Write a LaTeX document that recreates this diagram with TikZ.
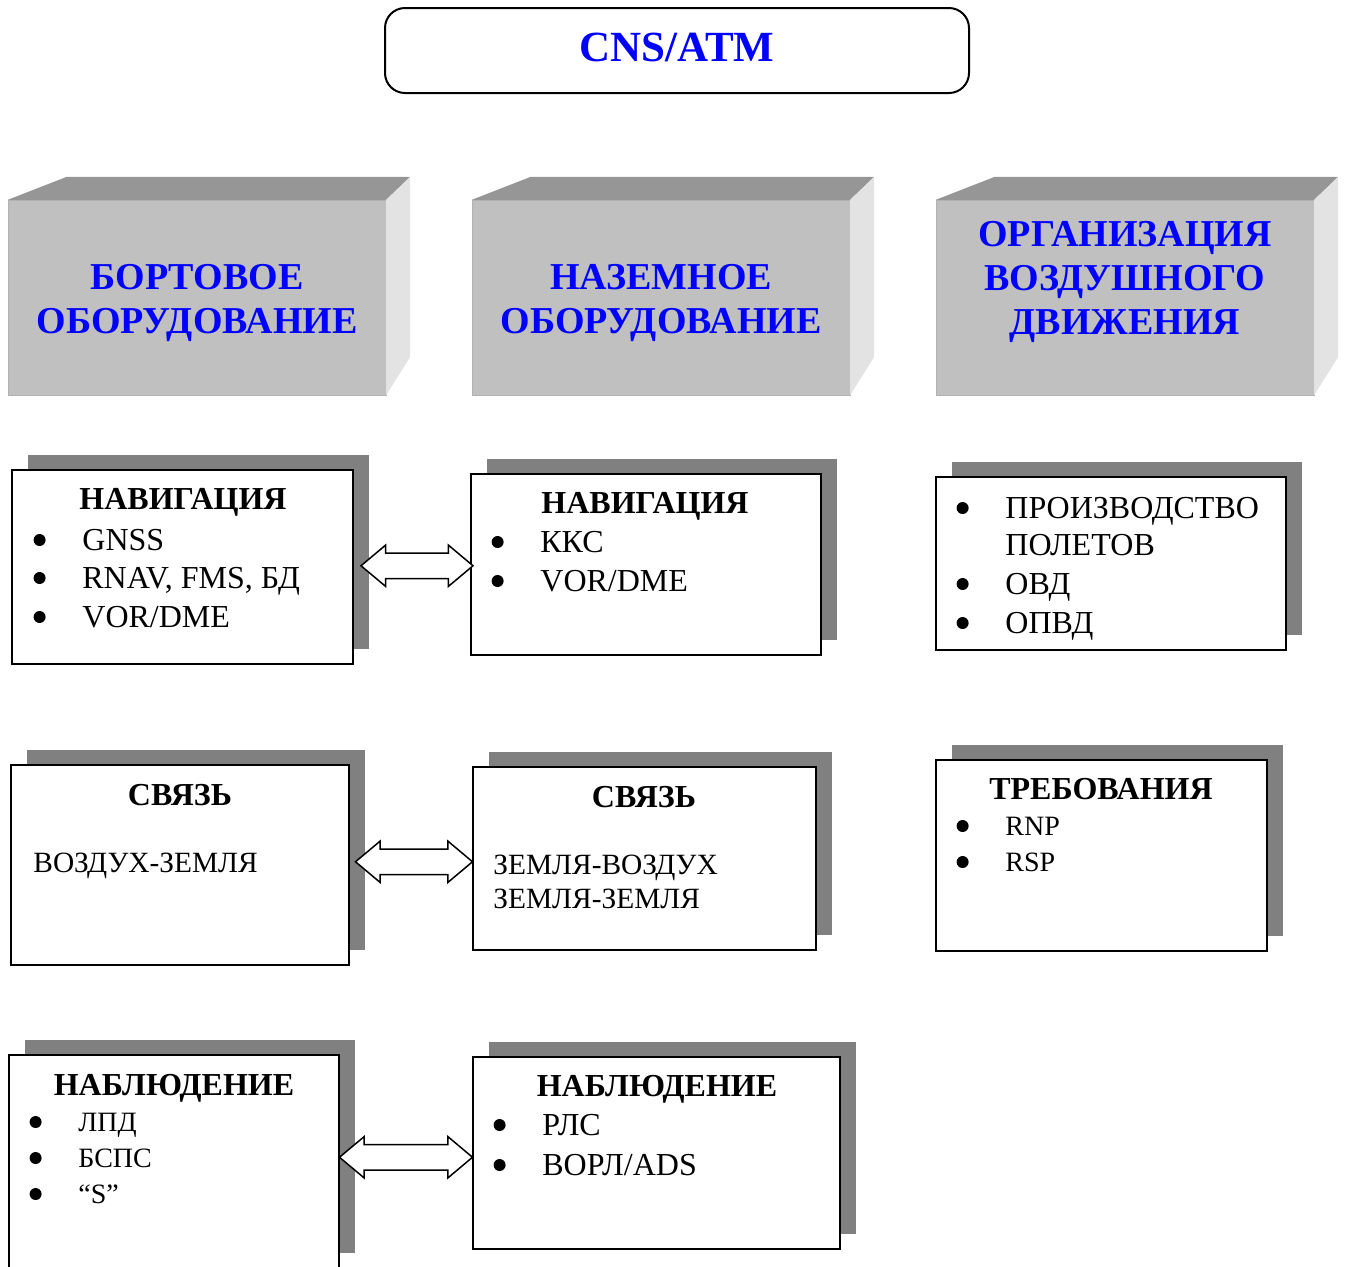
\documentclass[tikz,border=0pt]{standalone}
\usepackage{fontspec}
\setmainfont{Liberation Serif}
\usetikzlibrary{shapes.arrows,shadows,calc}
\definecolor{facefront}{HTML}{C0C0C0}
\definecolor{facetop}{HTML}{969696}
\definecolor{faceside}{HTML}{E3E3E3}
\definecolor{shadowgray}{HTML}{808080}
\begin{document}
\begin{tikzpicture}[
	x=0.5pt, y=-0.5pt,
	titlebox/.style={ draw, rounded corners=10pt, line width=1pt, minimum width=292pt, minimum height=42.5pt, text depth=3.5pt, text=blue, font=\fontsize{21.5}{25}\selectfont\bfseries },
	front/.style={ fill=facefront, draw=black!30, very thin, inner sep=0pt, minimum width=189pt, minimum height=97.5pt },
	cubetext/.style={ text=blue, align=center, inner sep=0pt, font=\fontsize{19}{22}\selectfont\bfseries },
	infobox/.style={ draw, fill=white, line width=0.8pt, inner sep=0pt, drop shadow={shadow xshift=8pt, shadow yshift=7.5pt, fill=shadowgray, opacity=1} },
	head/.style={ inner sep=0pt, text height=10.8pt, text depth=0pt, font=\fontsize{16}{19}\selectfont\bfseries },
	item/.style={ anchor=west, inner sep=0pt, text height=10.6pt, text depth=0pt, font=\fontsize{16}{19}\selectfont },
	itemsm/.style={ item, text height=9.3pt, font=\fontsize{14}{17}\selectfont },
	itemmd/.style={ item, text height=9.8pt, font=\fontsize{14.7}{18}\selectfont },
	dot/.style={ circle, fill, inner sep=0pt, text height=0pt, text depth=0pt, minimum size=6pt, xshift=-18pt },
	bitem/.style={ item, label={[dot]left:{}} },
	bitemsm/.style={ itemsm, label={[dot]left:{}} },
	link/.style={ double arrow, draw, fill=white, line width=0.75pt, inner xsep=0pt, inner ysep=6pt, double arrow head extend=4pt, double arrow tip angle=80 }
]
\useasboundingbox (0,0) rectangle (1345,1266);

% title
\node[titlebox] (cnsatm) at (677,50.5) {CNS/ATM};

% three blocks
\node[front] (bort) at (197,297.5) {};
\node[front] (nazem) at (661,297.5) {};
\node[front] (orvd) at (1125,297.5) {};
\foreach \b in {bort,nazem,orvd} {
	\fill[facetop] (\b.north west) -- ++(59,-23) -- ($(\b.north east)+(24,-23)$) -- (\b.north east) -- cycle;
	\fill[faceside] (\b.north east) -- ++(24,-23) -- ++(0,180) -- (\b.south east) -- cycle;
}
\node[cubetext] (borttext) at (197,303) {БОРТОВОЕ\\ОБОРУДОВАНИЕ};
\node[cubetext] (nazemtext) at (661,303) {НАЗЕМНОЕ\\ОБОРУДОВАНИЕ};
\node[cubetext] (orvdtext) at (1125,282) {ОРГАНИЗАЦИЯ\\ВОЗДУШНОГО\\ДВИЖЕНИЯ};

% navigation
\node[infobox, minimum width=170.5pt, minimum height=97pt] (nav1) at (182.5,567) {};
\node[head] (nav1h) at (183,499) {НАВИГАЦИЯ};
\node[bitem] (nav1a) at (82,540) {GNSS};
\node[bitem] (nav1b) at (82,578) {RNAV, FMS, БД};
\node[bitem] (nav1c) at (82,617) {VOR/DME};

\node[infobox, minimum width=175pt, minimum height=90.5pt] (nav2) at (646,564.5) {};
\node[head] (nav2h) at (645,503) {НАВИГАЦИЯ};
\node[bitem] (nav2a) at (540,542) {ККС};
\node[bitem] (nav2b) at (540,581) {VOR/DME};

\node[infobox, minimum width=175pt, minimum height=86.5pt] (org) at (1111,563.5) {};
\node[bitem] (orga) at (1005,508) {ПРОИЗВОДСТВО};
\node[item] (orgb) at (1005,545) {ПОЛЕТОВ};
\node[bitem] (orgc) at (1005,584) {ОВД};
\node[bitem] (orgd) at (1005,623) {ОПВД};

% communication
\node[infobox, minimum width=169pt, minimum height=100pt] (com1) at (180,865) {};
\node[head] (com1h) at (180,795) {СВЯЗЬ};
\node[itemmd] (com1a) at (33,863) {ВОЗДУХ-ЗЕМЛЯ};

\node[infobox, minimum width=171.5pt, minimum height=91.5pt] (com2) at (644.5,858.5) {};
\node[head] (com2h) at (644,797) {СВЯЗЬ};
\node[itemmd] (com2a) at (493,865) {ЗЕМЛЯ-ВОЗДУХ};
\node[itemmd] (com2b) at (493,899) {ЗЕМЛЯ-ЗЕМЛЯ};

\node[infobox, minimum width=165.5pt, minimum height=95.5pt] (req) at (1101.5,855.5) {};
\node[head] (reqh) at (1101,789) {ТРЕБОВАНИЯ};
\node[bitemsm] (reqa) at (1005,826) {RNP};
\node[bitemsm] (reqb) at (1005,862) {RSP};

% surveillance
\node[infobox, minimum width=165pt, minimum height=106.5pt] (sur1) at (174,1161.5) {};
\node[head] (sur1h) at (174,1085) {НАБЛЮДЕНИЕ};
\node[bitemsm] (sur1a) at (78,1122) {ЛПД};
\node[bitemsm] (sur1b) at (78,1158) {БСПС};
\node[bitemsm] (sur1c) at (78,1194) {“S”};

\node[infobox, minimum width=183.5pt, minimum height=96pt] (sur2) at (656.5,1153) {};
\node[head] (sur2h) at (657,1086) {НАБЛЮДЕНИЕ};
\node[bitem] (sur2a) at (542,1125) {РЛС};
\node[bitem] (sur2b) at (542,1165) {ВОРЛ/ADS};

% links
\node[link, minimum height=56pt, xshift=2.5pt] (navlink) at ($(nav1.east)!0.5!(nav2.west)$) {};
\node[link, minimum height=58.5pt, xshift=1.5pt] (comlink) at ($(com1.east)!0.5!(com2.west)$) {};
\node[link, minimum height=66.5pt] (surlink) at ($(sur1.east)!0.5!(sur2.west)$) {};

\end{tikzpicture}
\end{document}
